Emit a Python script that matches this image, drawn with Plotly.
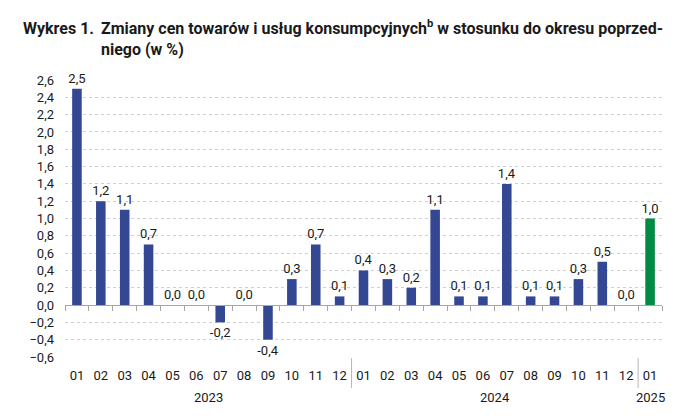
import plotly.graph_objects as go

months = ["01","02","03","04","05","06","07","08","09","10","11","12",
          "01","02","03","04","05","06","07","08","09","10","11","12","01"]
years = ["2023", "2024", "2025"]
year_counts = [12, 12, 1]
values = [2.5, 1.2, 1.1, 0.7, 0.0, 0.0, -0.2, 0.0, -0.4, 0.3, 0.7, 0.1,
          0.4, 0.3, 0.2, 1.1, 0.1, 0.1, 1.4, 0.1, 0.1, 0.3, 0.5, 0.0,
          1.0]
blue = "#344792"
green = "#008a44"
colors = [blue] * (len(values) - 1) + [green]

x = list(range(len(values)))
FONT = "Roboto"
TXT = "#1a1a1a"

fig = go.Figure()
fig.add_trace(go.Bar(
    x=x, y=values, marker=dict(color=colors, line=dict(width=0)),
    width=0.4, texttemplate="%{y:.1f}", textposition="outside",
    constraintext="none",
    textfont=dict(family=FONT, size=13, color=TXT), cliponaxis=False,
    showlegend=False, hoverinfo="skip"))

# invisible trace to activate xaxis2 (zero line with ticks)
fig.add_trace(go.Scatter(x=[-0.5], y=[0], xaxis="x2", mode="markers",
                         marker=dict(opacity=0), showlegend=False, hoverinfo="skip"))

n = len(values)
ymin, ymax = -0.6, 2.6
fig.update_layout(
    width=700, height=419,
    margin=dict(l=65, r=38, t=80, b=62),
    paper_bgcolor="white", plot_bgcolor="white",
    separators=", ",
    font=dict(family=FONT, size=13, color=TXT),
    xaxis=dict(range=[-0.5, n - 0.5], tickmode="array", tickvals=x, ticktext=months,
               showgrid=False, zeroline=False, showline=False, ticks="",
               ticklabelstandoff=9, tickfont=dict(size=13, color=TXT)),
    xaxis2=dict(range=[-0.5, n - 0.5], overlaying="x", anchor="free",
                position=(0 - ymin) / (ymax - ymin),
                tickmode="array", tickvals=[i - 0.5 for i in range(n + 1)],
                ticks="outside", ticklen=5, tickcolor="#a6a6a6", tickwidth=1,
                showticklabels=False, showline=True, linecolor="#a6a6a6", linewidth=1,
                showgrid=False, zeroline=False),
    yaxis=dict(range=[ymin, ymax], tickmode="array",
               tickvals=[round(-0.6 + 0.2 * i, 1) for i in range(17)],
               tickformat=".1f", showgrid=True, gridcolor="#cfcfcf", griddash="dot",
               gridwidth=1, zeroline=False, showline=False, ticks="",
               ticklabelstandoff=10, tickfont=dict(size=13, color=TXT)),
)

# year labels and dividers
start = 0
for yr, cnt in zip(years, year_counts):
    center = start + (cnt - 1) / 2
    fig.add_annotation(x=center, y=-0.148, xref="x", yref="paper", text=yr,
                       showarrow=False, xanchor="center", yanchor="middle",
                       font=dict(size=13, color=TXT))
    if start > 0:
        fig.add_shape(type="line", xref="x", yref="paper", x0=start - 0.5, x1=start - 0.5,
                      y0=-0.004, y1=-0.112, line=dict(color="#b5b5b5", width=1))
    start += cnt

# title with hanging indent
px_to_paper = lambda px: (px - 65) / (700 - 65 - 38)
py_to_paper = lambda py: (419 - 62 - py) / (419 - 62 - 80)
fig.add_annotation(xref="paper", yref="paper", x=px_to_paper(96), y=py_to_paper(28),
                   text="<b>Wykres 1.</b>", showarrow=False, xanchor="right", yanchor="middle",
                   font=dict(size=16, color=TXT))
fig.add_annotation(xref="paper", yref="paper", x=px_to_paper(99), y=py_to_paper(38),
                   text="<b>Zmiany cen towarów i usług konsumpcyjnych<sup>b</sup> w stosunku do okresu poprzed-</b><br><b>niego (w %)</b>",
                   showarrow=False, xanchor="left", yanchor="middle", align="left",
                   font=dict(size=16, color=TXT))

fig.write_html("out.html")
